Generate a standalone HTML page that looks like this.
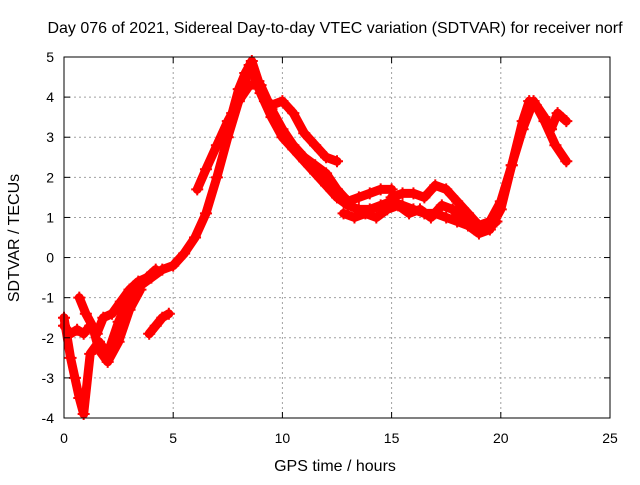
<!DOCTYPE html>
<html><head><meta charset="utf-8"><style>
body{margin:0;background:#fff;width:640px;height:480px;overflow:hidden}
svg text{font-family:"Liberation Sans",sans-serif;font-size:14px;fill:#000}
svg text.big{font-size:16px}
</style></head><body>
<svg id="chart" width="640" height="480">
<text class="big" x="335" y="33" text-anchor="middle">Day 076 of 2021, Sidereal Day-to-day VTEC variation (SDTVAR) for receiver norf</text>
<text class="big" x="335" y="471" text-anchor="middle">GPS time / hours</text>
<text class="big" transform="translate(19,238) rotate(-90)" text-anchor="middle">SDTVAR / TECUs</text>
<g id="grid"></g><g id="marks"></g>
<rect x="64" y="57" width="546" height="361" fill="none" stroke="#000" stroke-width="1"/>
<g id="ticks"></g>
</svg>
<script>
const xTicks=[0,5,10,15,20,25];
const yTicks=[-4,-3,-2,-1,0,1,2,3,4,5];
const trackMainH=[0,0.3,0.5,0.7,0.9,1.2,1.6,2,2.5,3,3.5,4,4.5,5,5.5,6,6.5,7,7.5,8,8.5,9,9.5,10,10.5,11,11.5,12,12.5,13,13.5,14,14.5,15,15.5,16,16.5,17,17.5,18,18.5,19,19.5,20,20.5,21,21.3,21.6,22,22.5,23];
const trackMainV=[-1.5,-2.5,-3,-3.5,-3.9,-2.4,-2.1,-2.4,-1.6,-1,-0.7,-0.5,-0.3,-0.2,0.1,0.5,1.1,2,3,3.9,4.8,4.1,3.5,3,2.7,2.4,2.1,1.8,1.5,1.3,1.2,1.2,1.3,1.4,1.3,1.2,1.1,1.1,1,0.9,0.8,0.6,0.7,1.2,2.3,3.4,3.9,3.8,3.4,2.8,2.4];
const trackBH=[6.1,6.5,7,7.5,8,8.5,9,9.5,10,10.5,11,11.5,12,12.5,13,13.5,14,14.5,15];
const trackBV=[1.7,2.2,2.8,3.4,3.9,4.3,4.3,3.7,3.2,2.8,2.5,2.3,2.1,1.7,1.4,1.5,1.6,1.7,1.7];
const trackCH=[9.5,10,10.5,11,11.5,12,12.5];
const trackCV=[3.8,3.9,3.6,3.1,2.8,2.5,2.4];
const trackDH=[15,15.5,16,16.5,17,17.5,18,18.5,19,19.5,20,20.5,21,21.5,22,22.3,22.6,23];
const trackDV=[1.5,1.6,1.6,1.5,1.8,1.7,1.4,1.1,0.8,0.9,1.4,2.3,3.2,3.9,3.5,3.2,3.6,3.4];
const trackEH=[0,0.3,0.6,0.9,1.2,1.5,1.8,2.2,2.6,3,3.4,3.8,4.2];
const trackEV=[-1.7,-1.9,-1.8,-1.9,-1.7,-1.9,-1.5,-1.4,-1.1,-0.8,-0.6,-0.5,-0.3];
const trackFH=[0.7,1,1.3,1.6,2,2.5,3,3.5];
const trackFV=[-1,-1.4,-1.7,-2.3,-2.6,-2.1,-1.3,-0.8];
const trackGH=[3.9,4.2,4.5,4.8];
const trackGV=[-1.9,-1.7,-1.5,-1.4];
const trackHH=[12.8,13.3,13.8,14.3,14.8,15.3,15.8,16.3,16.8,17.3,17.8,18.3,18.8,19.3,19.8];
const trackHV=[1.1,1.0,1.1,1.0,1.2,1.3,1.1,1.2,1.0,1.3,1.2,0.9,0.7,0.7,0.9];
const trackIH=[7.7,8,8.3,8.6,8.9,9.2];
const trackIV=[3.6,4.2,4.6,4.9,4.4,3.9];
const X=h=>64+h*546/25, Y=v=>57+(5-v)*361/9;
const NS='http://www.w3.org/2000/svg';
const grid=document.getElementById('grid'),ticks=document.getElementById('ticks'),marks=document.getElementById('marks');
function mk(t,a,p){const e=document.createElementNS(NS,t);for(const k in a)e.setAttribute(k,a[k]);p.appendChild(e);return e;}
xTicks.forEach(t=>{const x=X(t);
 if(t>0&&t<25){const g=mk('line',{x1:x,x2:x,y1:57,y2:418,stroke:'#a0a0a0','stroke-dasharray':'2,3'},grid);
 
 }
 mk('line',{x1:x,x2:x,y1:418,y2:412,stroke:'#000'},ticks);mk('line',{x1:x,x2:x,y1:57,y2:63,stroke:'#000'},ticks);
 const l=mk('text',{x:x,y:443,'text-anchor':'middle'},ticks);l.textContent=t;
 
 });
yTicks.forEach(t=>{const y=Y(t);
 if(t>-4&&t<5){const g=mk('line',{x1:64,x2:610,y1:y,y2:y,stroke:'#a0a0a0','stroke-dasharray':'2,3'},grid);
 
 }
 mk('line',{x1:64,x2:70,y1:y,y2:y,stroke:'#000'},ticks);mk('line',{x1:610,x2:604,y1:y,y2:y,stroke:'#000'},ticks);
 const l=mk('text',{x:54,y:y+5,'text-anchor':'end'},ticks);l.textContent=t;
 
 });
[[trackMainH,trackMainV],[trackBH,trackBV],[trackCH,trackCV],[trackDH,trackDV],[trackEH,trackEV],[trackFH,trackFV],[trackGH,trackGV],[trackHH,trackHV],[trackIH,trackIV]].forEach((tr,i)=>{
 const [H,V]=tr;const pts=H.map((h,j)=>X(h)+','+Y(V[j])).join(' ');
 const pl=mk('polyline',{points:pts,fill:'none',stroke:'#f00','stroke-width':9,'stroke-linejoin':'round','stroke-linecap':'round'},marks);
 
 
 H.forEach((h,j)=>{const x=X(h),y=Y(V[j]);
  const p=mk('path',{d:`M${x-6},${y}H${x+6}M${x},${y-6}V${y+6}`,stroke:'#f00','stroke-width':2},marks);
  
  });
});
</script>
</body></html>
